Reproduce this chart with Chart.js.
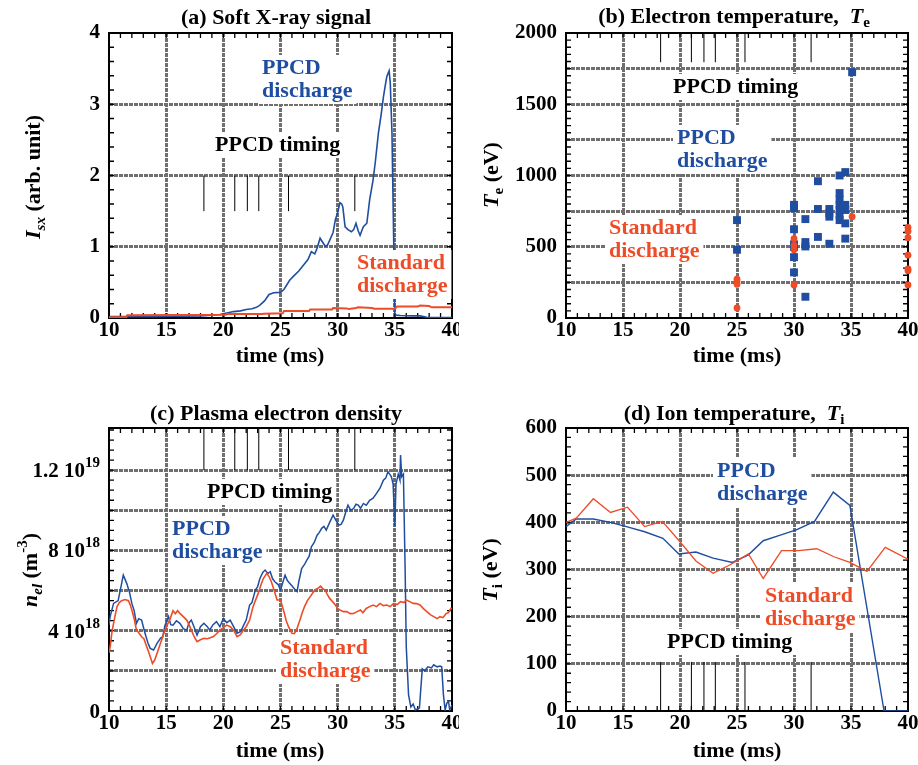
<!DOCTYPE html>
<html>
<head>
<meta charset="utf-8">
<script src="https://cdn.jsdelivr.net/npm/chart.js@4.4.0/dist/chart.umd.min.js"></script>
<style>
  body { margin: 0; background: #fff; }
  #wrap { position: relative; width: 918px; height: 765px; }
  canvas { position: absolute; }
</style>
</head>
<body>
<div id="wrap">
  <canvas id="sxChart" width="459" height="382" style="left:0;top:0"></canvas>
  <canvas id="teChart" width="459" height="382" style="left:459px;top:0"></canvas>
  <canvas id="neChart" width="459" height="383" style="left:0;top:382px"></canvas>
  <canvas id="tiChart" width="459" height="383" style="left:459px;top:382px"></canvas>
</div>
<script>
/* ======================
   DATA
====================== */
// PPCD pulse timing (ms)
const timing = [18.3, 21.0, 22.1, 23.1, 25.7, 31.5];

// (a) soft X-ray signal, arb. unit
const sxPpcdT = [10, 12, 14, 16, 18, 19, 19.7, 20.3, 20.9, 21.5, 22.0, 22.5, 22.9, 23.2, 23.6, 24.0, 24.4, 25.0, 25.3, 25.8, 26.1, 26.6, 27.0, 27.4, 27.7, 28.0, 28.2, 28.46, 28.7, 28.9, 29.1, 29.3, 29.6, 29.8, 30.0, 30.2, 30.35, 30.45, 30.65, 30.9, 31.2, 31.4, 31.6, 31.8, 31.96, 32.1, 32.25, 32.55, 32.8, 33.1, 33.3, 33.56, 33.8, 34.0, 34.15, 34.3, 34.5, 34.6, 34.75, 34.9, 35.0, 35.1, 35.5, 36.5, 37.2, 37.8, 39, 40];
const sxPpcdV = [0.02, 0.02, 0.02, 0.025, 0.03, 0.04, 0.05, 0.07, 0.09, 0.1, 0.12, 0.13, 0.15, 0.18, 0.24, 0.33, 0.355, 0.36, 0.4, 0.53, 0.58, 0.66, 0.74, 0.82, 0.93, 0.9, 0.98, 1.12, 1.06, 1.01, 1.02, 1.09, 1.2, 1.38, 1.48, 1.62, 1.6, 1.56, 1.28, 1.24, 1.21, 1.24, 1.33, 1.22, 1.16, 1.22, 1.28, 1.33, 1.66, 1.94, 2.2, 2.59, 2.85, 3.1, 3.25, 3.39, 3.47, 3.3, 2.6, 1.1, 0.07, 0.04, 0.035, 0.03, 0.03, 0.01, 0.005, 0.005];
const sxStdT = [10, 11.5, 11.6, 20.2, 20.3, 23.4, 23.5, 25.2, 25.3, 27.5, 27.6, 29.5, 29.6, 30.8, 31.0, 31.6, 31.8, 33.0, 33.2, 35.0, 35.2, 37.0, 37.2, 38.0, 38.2, 40];
const sxStdV = [0.01, 0.01, 0.04, 0.045, 0.055, 0.055, 0.06, 0.065, 0.1, 0.1, 0.12, 0.12, 0.14, 0.135, 0.125, 0.14, 0.15, 0.14, 0.13, 0.13, 0.16, 0.16, 0.175, 0.17, 0.15, 0.15];

// (b) electron temperature, eV
const tePpcdT = [25, 25, 30, 30, 30, 30, 30, 30, 30, 31, 31, 31, 31, 32.1, 32.1, 32.1, 33.1, 33.1, 33.1, 33.1, 34, 34, 34, 34, 34, 34, 34, 34.5, 34.5, 34.5, 34.5, 34.5, 35.1];
const tePpcdV = [687, 479, 794, 770, 623, 517, 498, 427, 320, 694, 533, 502, 149, 960, 765, 569, 765, 735, 711, 521, 1000, 877, 830, 794, 758, 723, 687, 1024, 794, 758, 664, 557, 1725];
const teStdT = [25, 25, 25, 25, 30, 30, 30, 30, 35.1, 40, 40, 40, 40, 40, 40, 40];
const teStdV = [272, 254, 237, 71, 557, 510, 479, 232, 711, 635, 609, 564, 441, 344, 332, 232];

// (c) electron density, 10^18 m^-3
const nePpcdT = [10.0, 10.1, 10.4, 10.8, 11.05, 11.25, 11.55, 11.8, 12.0, 12.2, 12.4, 12.6, 12.85, 13.15, 13.4, 13.6, 13.9, 14.2, 14.5, 14.7, 14.9, 15.2, 15.4, 15.6, 15.9, 16.2, 16.5, 16.8, 17.0, 17.2, 17.5, 17.7, 18.0, 18.3, 18.6, 18.8, 19.1, 19.4, 19.7, 20.0, 20.3, 20.6, 20.9, 21.2, 21.5, 21.8, 22.0, 22.3, 22.5, 22.8, 23.0, 23.2, 23.45, 23.65, 23.9, 24.1, 24.3, 24.5, 24.8, 25.0, 25.2, 25.4, 25.6, 25.8, 26.05, 26.3, 26.45, 26.6, 26.85, 27.1, 27.3, 27.5, 27.7, 27.95, 28.2, 28.4, 28.6, 28.8, 29.0, 29.3, 29.6, 29.85, 30.1, 30.3, 30.5, 30.7, 30.9, 31.15, 31.4, 31.6, 31.8, 32.0, 32.25, 32.5, 32.8, 33.1, 33.4, 33.7, 34.0, 34.2, 34.4, 34.55, 34.7, 34.85, 35.0, 35.1, 35.3, 35.45, 35.5, 35.6, 35.75, 35.9, 36.0, 36.2, 36.4, 36.6, 36.8, 37.15, 37.4, 37.6, 37.9, 38.2, 38.4, 38.7, 38.95, 39.1, 39.25, 39.4, 39.55, 39.7, 39.8, 40.0];
const nePpcdV = [4.3, 4.7, 5.36, 5.5, 6.2, 6.77, 6.36, 5.9, 5.36, 5.0, 4.37, 4.6, 4.53, 3.87, 3.4, 3.12, 3.04, 3.37, 3.62, 3.7, 4.28, 4.7, 4.3, 4.28, 4.5, 4.37, 4.1, 4.03, 4.4, 4.53, 4.1, 3.78, 4.2, 4.37, 4.2, 4.03, 4.3, 4.45, 4.2, 4.61, 4.4, 4.53, 4.2, 3.87, 3.95, 4.3, 4.53, 5.28, 5.4, 6.03, 6.2, 6.6, 6.9, 7.02, 6.85, 6.94, 6.6, 6.44, 6.3, 6.03, 6.4, 6.77, 6.5, 6.36, 6.2, 6.03, 5.95, 6.44, 7.1, 7.3, 7.52, 7.7, 8.18, 8.4, 8.76, 8.9, 9.1, 9.2, 9.01, 9.4, 9.76, 9.5, 9.26, 9.3, 9.51, 9.9, 10.26, 10.0, 10.1, 10.3, 10.26, 10.1, 10.34, 10.25, 10.5, 10.6, 10.84, 11.1, 11.5, 11.6, 11.92, 11.8, 11.67, 11.3, 9.2, 11.3, 11.8, 11.5, 12.75, 11.67, 11.8, 7.1, 3.2, 0.8, 0.2, 0.35, 0.05, 0.15, 2.1, 2.0, 2.2, 2.15, 2.3, 2.2, 2.24, 2.2, 0.8, 0.05, 0.4, 0.46, 0.05, 0.3];
const neStdT = [10.0, 10.1, 10.25, 10.4, 10.55, 10.7, 10.9, 11.1, 11.4, 11.7, 11.85, 12.0, 12.2, 12.4, 12.6, 12.85, 13.05, 13.3, 13.55, 13.8, 14.0, 14.25, 14.5, 14.7, 14.9, 15.1, 15.3, 15.6, 15.8, 16.0, 16.2, 16.5, 16.8, 17.0, 17.2, 17.45, 17.7, 18.0, 18.3, 18.6, 19.1, 19.4, 19.7, 20.0, 20.3, 20.6, 20.9, 21.2, 21.5, 21.75, 22.0, 22.3, 22.6, 22.8, 23.05, 23.3, 23.5, 23.8, 24.0, 24.2, 24.45, 24.7, 25.0, 25.3, 25.5, 25.7, 26.0, 26.2, 26.4, 26.7, 26.9, 27.1, 27.35, 27.6, 28.0, 28.25, 28.5, 28.7, 28.9, 29.1, 29.3, 29.55, 29.8, 30.0, 30.2, 30.5, 30.8, 31.1, 31.4, 31.7, 32.0, 32.2, 32.5, 32.8, 33.1, 33.4, 33.7, 34.0, 34.3, 34.6, 34.9, 35.2, 35.5, 35.8, 36.0, 36.3, 36.6, 36.9, 37.2, 37.5, 37.8, 38.1, 38.4, 38.7, 38.95, 39.2, 39.5, 39.7, 39.9, 40.0];
const neStdV = [2.9, 3.2, 3.9, 4.37, 4.8, 5.2, 5.4, 5.5, 5.55, 5.5, 5.3, 5.03, 4.6, 4.03, 3.9, 3.7, 3.6, 3.2, 2.8, 2.37, 2.54, 2.95, 3.37, 3.7, 4.03, 4.3, 4.53, 5.0, 4.85, 5.0, 4.86, 4.7, 4.53, 4.3, 4.03, 3.7, 3.45, 3.55, 3.62, 3.6, 3.7, 3.85, 4.03, 4.15, 4.28, 4.2, 4.03, 3.7, 3.8, 4.03, 4.2, 4.53, 5.2, 5.5, 5.86, 6.3, 6.6, 6.86, 6.7, 6.44, 6.0, 5.53, 5.53, 4.95, 4.5, 4.2, 3.87, 3.85, 4.03, 4.53, 4.9, 5.2, 5.5, 5.7, 6.03, 6.1, 6.22, 6.1, 6.03, 5.8, 5.61, 5.45, 5.28, 5.1, 5.03, 4.95, 4.95, 4.85, 4.86, 4.95, 5.03, 4.9, 5.11, 5.2, 5.28, 5.2, 5.36, 5.25, 5.28, 5.2, 5.36, 5.3, 5.45, 5.4, 5.53, 5.45, 5.36, 5.35, 5.28, 5.1, 4.95, 4.8, 4.7, 4.6, 4.7, 4.65, 4.86, 4.9, 5.11, 5.1];
const neTickVals = [0, 4, 8, 12];
const neTickBase = ['0', '4 10', '8 10', '1.2 10'];
const neTickExp = ['', '18', '18', '19'];

// (d) ion temperature, eV
const tiPpcdT = [10, 10.9, 12.4, 13.9, 15.3, 16.9, 18.5, 19.9, 21.4, 22.9, 24.6, 26.0, 27.3, 28.8, 30.2, 31.8, 33.45, 34.9, 37.9, 40];
const tiPpcdV = [391, 407, 407, 400, 391, 380, 366, 333, 337, 324, 315, 331, 361, 373, 384, 402, 464, 436, 0, 0];
const tiStdT = [10, 10.9, 12.4, 13.9, 15.4, 16.9, 18.45, 19.85, 21.4, 22.9, 24.4, 26.0, 27.3, 28.9, 30.4, 32.0, 33.5, 34.9, 36.4, 38.0, 40];
const tiStdV = [400, 409, 450, 421, 432, 391, 402, 363, 318, 292, 310, 333, 281, 340, 340, 344, 327, 315, 296, 347, 322];

/* ======================
   STYLE
====================== */
const SERIF = '"Liberation Serif", "Times New Roman", serif';
const BLUE = '#1f4ea1';
const RED = '#ee4b27';
const GRID = '#6f6f6f';
const B = s => `bold ${s}px ${SERIF}`;
const BI = s => `italic bold ${s}px ${SERIF}`;

const pts = (t, v) => t.map((x, i) => ({ x, y: v[i] }));

function timingSet(y0, y1) {
  const d = [];
  timing.forEach(t => { d.push({ x: t, y: y0 }, { x: t, y: y1 }, { x: t, y: null }); });
  return { data: d, borderColor: '#000', borderWidth: 1, pointRadius: 0, spanGaps: false };
}

function rich(ctx, parts, x, y, align) {
  let w = 0;
  parts.forEach(p => { ctx.font = p.f; p.w = ctx.measureText(p.t).width; w += p.w; });
  let cx = align === 'center' ? x - w / 2 : align === 'right' ? x - w : x;
  ctx.textAlign = 'left';
  ctx.textBaseline = 'alphabetic';
  parts.forEach(p => { ctx.font = p.f; ctx.fillText(p.t, cx, y + (p.dy || 0)); cx += p.w; });
}

/* ======================
   DECOR PLUGIN
====================== */
const decor = {
  id: 'decor',
  beforeDatasetsDraw(chart, args, o) {
    const ctx = chart.ctx;
    const { left, right, top, bottom } = chart.chartArea;
    const X = chart.scales.x, Y = chart.scales.y;
    ctx.save();
    ctx.strokeStyle = '#000';
    ctx.lineWidth = 1.3;
    ctx.beginPath();
    for (let i = 0; ; i++) {
      const v = X.min + i * o.minor[0];
      if (v > X.max + 1e-9) break;
      const p = X.getPixelForValue(v);
      ctx.moveTo(p, bottom); ctx.lineTo(p, bottom - 5);
      ctx.moveTo(p, top); ctx.lineTo(p, top + 5);
    }
    for (let i = 0; ; i++) {
      const v = Y.min + i * o.minor[1];
      if (v > Y.max + 1e-9) break;
      const p = Y.getPixelForValue(v);
      ctx.moveTo(left, p); ctx.lineTo(left + 5, p);
      ctx.moveTo(right, p); ctx.lineTo(right - 5, p);
    }
    ctx.stroke();
    ctx.lineWidth = 2;
    ctx.strokeRect(left, top, right - left, bottom - top);
    ctx.restore();
  },
  afterDatasetsDraw(chart, args, o) {
    const ctx = chart.ctx;
    const { left } = chart.chartArea;
    ctx.save();
    // in-plot labels on white boxes
    o.labels.forEach(l => {
      ctx.font = B(22);
      const w = Math.max(...l.lines.map(s => ctx.measureText(s).width));
      const b1 = l.y + (l.lines.length - 1) * 23;
      ctx.fillStyle = '#fff';
      ctx.fillRect(l.x - 4, l.y - 19, w + 8, b1 - l.y + 26);
      ctx.fillStyle = l.color;
      ctx.textAlign = 'left';
      ctx.textBaseline = 'alphabetic';
      l.lines.forEach((s, i) => ctx.fillText(s, l.x, l.y + i * 23));
    });
    ctx.fillStyle = '#000';
    // title
    rich(ctx, o.title, o.titlePos[0], o.titlePos[1], 'center');
    // x title
    rich(ctx, [{ t: 'time (ms)', f: B(22) }], o.xTitlePos[0], o.xTitlePos[1], 'center');
    // y title
    ctx.save();
    ctx.translate(o.yTitlePos[0], o.yTitlePos[1]);
    ctx.rotate(-Math.PI / 2);
    rich(ctx, o.yTitle, 0, 7, 'center');
    ctx.restore();
    // custom y tick labels
    if (o.yTicks) {
      const Y = chart.scales.y;
      o.yTicks.vals.forEach((v, i) => {
        const y = Y.getPixelForValue(v) + 7;
        const parts = [{ t: o.yTicks.base[i], f: B(21) }];
        if (o.yTicks.exp[i]) parts.push({ t: o.yTicks.exp[i], f: B(15), dy: -10 });
        rich(ctx, parts, left - 9, y, 'right');
      });
    }
    ctx.restore();
  }
};

const gridColor = c => {
  const s = c.scale;
  if (!c.tick) return GRID;
  const v = c.tick.value;
  return (Math.abs(v - s.min) < 1e-9 || Math.abs(v - s.max) < 1e-9) ? 'rgba(0,0,0,0)' : GRID;
};

function makeChart(id, cfg) {
  return new Chart(document.getElementById(id), {
    type: 'line',
    data: { datasets: cfg.datasets },
    options: {
      responsive: false,
      animation: false,
      devicePixelRatio: 1,
      layout: { padding: cfg.pad },
      elements: { line: { tension: 0 }, point: { radius: 0 } },
      plugins: { legend: { display: false }, tooltip: { enabled: false }, decor: cfg.decor },
      scales: {
        x: {
          type: 'linear', min: 10, max: 40,
          afterFit: s => { s.height = 30; s.paddingLeft = 0; s.paddingRight = 0; },
          ticks: { stepSize: 5, autoSkip: false, maxRotation: 0, padding: 0, color: '#000',
                   font: { family: SERIF, size: 21, weight: 'bold' } },
          grid: { color: gridColor, lineWidth: 3, drawTicks: false },
          border: { display: false, dash: [4, 1] }
        },
        y: {
          type: 'linear', min: cfg.yMin, max: cfg.yMax,
          afterFit: s => { s.width = cfg.yw; s.paddingTop = 0; s.paddingBottom = 0; },
          ticks: { stepSize: cfg.yStep, autoSkip: false, padding: 9, color: '#000', callback: cfg.yLabel,
                   font: { family: SERIF, size: 21, weight: 'bold' } },
          grid: { color: gridColor, lineWidth: 3, drawTicks: false },
          border: { display: false, dash: [4, 1] }
        }
      }
    },
    plugins: [decor]
  });
}

/* ======================
   (a) SOFT X-RAY
====================== */
makeChart('sxChart', {
  pad: { left: 9, right: 7, top: 33, bottom: 34 },
  yw: 100, yMin: 0, yMax: 4, yStep: 1, yLabel: v => v,
  datasets: [
    timingSet(1.5, 2.0),
    { data: pts(sxStdT, sxStdV), borderColor: RED, borderWidth: 2 },
    { data: pts(sxPpcdT, sxPpcdV), borderColor: BLUE, borderWidth: 1.6 }
  ],
  decor: {
    minor: [1, 0.2],
    title: [{ t: '(a) Soft X-ray signal', f: B(22) }], titlePos: [276, 24],
    xTitlePos: [280, 362],
    yTitle: [{ t: 'I', f: BI(22) }, { t: 'sx', f: BI(15), dy: 5 }, { t: ' (arb. unit)', f: B(22) }],
    yTitlePos: [33, 177],
    labels: [
      { lines: ['PPCD', 'discharge'], x: 262, y: 74, color: BLUE },
      { lines: ['PPCD timing'], x: 215, y: 151, color: '#000' },
      { lines: ['Standard', 'discharge'], x: 357, y: 269, color: RED }
    ]
  }
});

/* ======================
   (b) ELECTRON TEMPERATURE
====================== */
makeChart('teChart', {
  pad: { left: 9, right: 10, top: 33, bottom: 34 },
  yw: 98, yMin: 0, yMax: 2000, yStep: 250, yLabel: v => (v % 500 === 0 ? v : ''),
  datasets: [
    timingSet(1795, 2000),
    { data: pts(teStdT, teStdV), showLine: false, pointStyle: 'circle', pointRadius: 3.4,
      pointBackgroundColor: RED, pointBorderWidth: 0, clip: false },
    { data: pts(tePpcdT, tePpcdV), showLine: false, pointStyle: 'rect', pointRadius: 5.6,
      pointBackgroundColor: BLUE, pointBorderWidth: 0, clip: false }
  ],
  decor: {
    minor: [1, 50],
    title: [{ t: '(b) Electron temperature,  ', f: B(22) }, { t: 'T', f: BI(22) }, { t: 'e', f: B(15), dy: 4 }],
    titlePos: [275, 23],
    xTitlePos: [278, 362],
    yTitle: [{ t: 'T', f: BI(22) }, { t: 'e', f: B(15), dy: 5 }, { t: ' (eV)', f: B(22) }],
    yTitlePos: [32, 175],
    labels: [
      { lines: ['PPCD timing'], x: 214, y: 93, color: '#000' },
      { lines: ['PPCD', 'discharge'], x: 218, y: 144, color: BLUE },
      { lines: ['Standard', 'discharge'], x: 150, y: 234, color: RED }
    ]
  }
});

/* ======================
   (c) ELECTRON DENSITY
====================== */
makeChart('neChart', {
  pad: { left: 9, right: 7, top: 46, bottom: 24 },
  yw: 100, yMin: 0, yMax: 14.1, yStep: 2, yLabel: () => '',
  datasets: [
    timingSet(12, 14.1),
    { data: pts(neStdT, neStdV), borderColor: RED, borderWidth: 1.6 },
    { data: pts(nePpcdT, nePpcdV), borderColor: BLUE, borderWidth: 1.5 }
  ],
  decor: {
    minor: [1, 0.5],
    title: [{ t: '(c) Plasma electron density', f: B(22) }], titlePos: [276, 38],
    xTitlePos: [280, 375],
    yTitle: [{ t: 'n', f: BI(22) }, { t: 'el', f: BI(15), dy: 5 }, { t: ' (m', f: B(22) },
             { t: '-3', f: B(15), dy: -10 }, { t: ')', f: B(22) }],
    yTitlePos: [30, 188],
    yTicks: { vals: neTickVals, base: neTickBase, exp: neTickExp },
    labels: [
      { lines: ['PPCD timing'], x: 207, y: 116, color: '#000' },
      { lines: ['PPCD', 'discharge'], x: 172, y: 153, color: BLUE },
      { lines: ['Standard', 'discharge'], x: 280, y: 272, color: RED }
    ]
  }
});

/* ======================
   (d) ION TEMPERATURE
====================== */
makeChart('tiChart', {
  pad: { left: 9, right: 10, top: 46, bottom: 24 },
  yw: 98, yMin: 0, yMax: 600, yStep: 100, yLabel: v => v,
  datasets: [
    timingSet(0, 104),
    { data: pts(tiStdT, tiStdV), borderColor: RED, borderWidth: 1.3 },
    { data: pts(tiPpcdT, tiPpcdV), borderColor: BLUE, borderWidth: 1.4 }
  ],
  decor: {
    minor: [1, 20],
    title: [{ t: '(d) Ion temperature,  ', f: B(22) }, { t: 'T', f: BI(22) }, { t: 'i', f: B(15), dy: 4 }],
    titlePos: [275, 38],
    xTitlePos: [278, 375],
    yTitle: [{ t: 'T', f: BI(22) }, { t: 'i', f: B(15), dy: 5 }, { t: ' (eV)', f: B(22) }],
    yTitlePos: [31, 188],
    labels: [
      { lines: ['PPCD', 'discharge'], x: 258, y: 95, color: BLUE },
      { lines: ['Standard', 'discharge'], x: 306, y: 220, color: RED },
      { lines: ['PPCD timing'], x: 208, y: 266, color: '#000' }
    ]
  }
});
</script>
</body>
</html>
